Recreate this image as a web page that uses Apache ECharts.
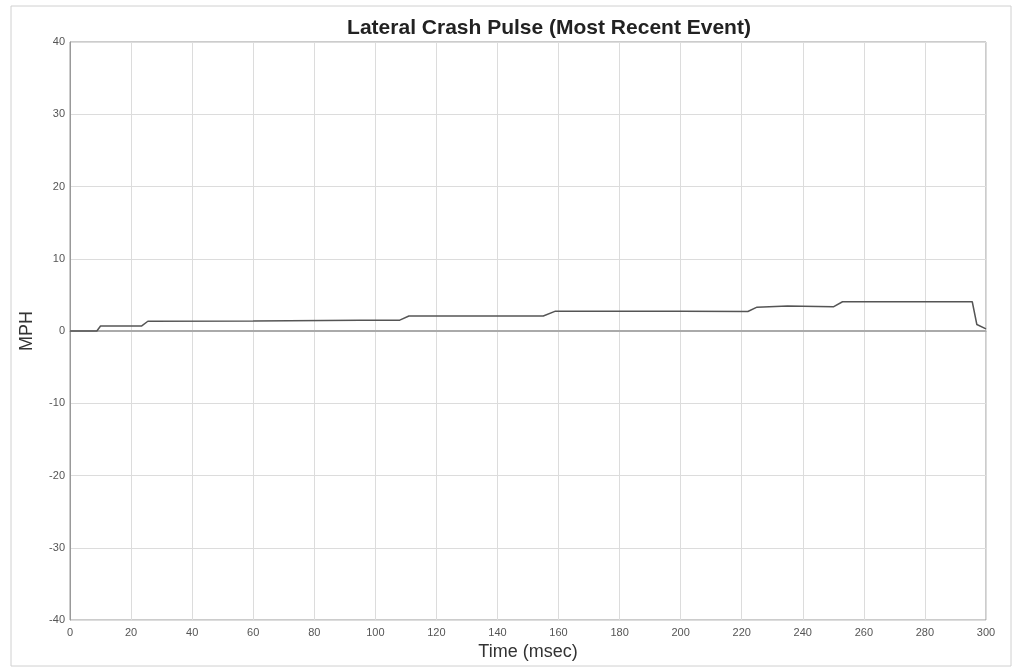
<!DOCTYPE html>
<html>
<head>
<meta charset="utf-8">
<script src="https://cdn.jsdelivr.net/npm/echarts@6/dist/echarts.min.js"></script>
<style>
html,body{margin:0;padding:0;background:#fff;}
#c{width:1014px;height:668px;}
</style>
</head>
<body>
<div id="c"></div>
<script>
const timeMs = [0, 8.8, 10, 23.5, 25.5, 60, 95, 108, 111, 155, 159, 200, 222, 225, 235, 250, 253, 295.5, 297, 300];
const mph    = [0, 0, 0.7, 0.7, 1.35, 1.4, 1.5, 1.5, 2.07, 2.07, 2.75, 2.72, 2.7, 3.3, 3.45, 3.35, 4.05, 4.05, 0.9, 0.3];
const zeroTime = [0, 300];
const zeroVal = [0, 0];
const xTicks = [0,20,40,60,80,100,120,140,160,180,200,220,240,260,280,300];
const yTicks = [-40,-30,-20,-10,0,10,20,30,40];

const chart = echarts.init(document.getElementById('c'));
chart.setOption({
  backgroundColor: '#fff',
  animation: false,
  title: {
    text: 'Lateral Crash Pulse (Most Recent Event)',
    left: 544, top: 13, textAlign: 'center',
    textStyle: {fontFamily: 'Liberation Sans', fontWeight: 'bold', fontSize: 21, color: '#222'}
  },
  grid: {left: 70, right: 28, top: 42, bottom: 48, show: true, borderColor: '#999', borderWidth: 1},
  xAxis: {
    type: 'value', min: 0, max: 300, interval: 20,
    name: 'Time (msec)', nameLocation: 'middle', nameGap: 21,
    nameTextStyle: {fontFamily: 'Liberation Sans', fontSize: 18, color: '#333'},
    axisLine: {show: true, lineStyle: {color: '#999'}},
    axisTick: {show: false},
    axisLabel: {fontFamily: 'Liberation Sans', fontSize: 11, color: '#555', margin: 7,
      formatter: v => xTicks.includes(v) ? String(v) : ''},
    splitLine: {show: true, lineStyle: {color: '#dcdcdc'}}
  },
  yAxis: {
    type: 'value', min: -40, max: 40, interval: 10,
    name: 'MPH', nameLocation: 'middle', nameGap: 34,
    nameTextStyle: {fontFamily: 'Liberation Sans', fontSize: 18, color: '#333'},
    axisLine: {show: true, lineStyle: {color: '#999'}},
    axisTick: {show: false},
    axisLabel: {fontFamily: 'Liberation Sans', fontSize: 11, color: '#555', margin: 5,
      formatter: v => yTicks.includes(v) ? String(v) : ''},
    splitLine: {show: true, lineStyle: {color: '#dcdcdc'}}
  },
  graphic: [{
    type: 'rect', shape: {x: 11, y: 6, width: 1000, height: 660},
    style: {fill: 'none', stroke: '#d0d0d0', lineWidth: 1}, silent: true
  }],
  series: [
    {
      type: 'line', symbol: 'none',
      data: zeroTime.map((t, i) => [t, zeroVal[i]]),
      lineStyle: {color: '#aaaaaa', width: 2}, z: 2
    },
    {
      type: 'line', symbol: 'none',
      data: timeMs.map((t, i) => [t, mph[i]]),
      lineStyle: {color: '#555555', width: 1.5}, z: 3
    }
  ]
});
</script>
</body>
</html>
